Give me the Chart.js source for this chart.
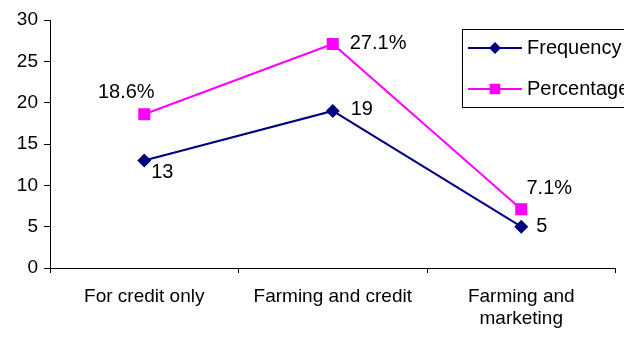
<!DOCTYPE html>
<html>
<head>
<meta charset="utf-8">
<script src="https://cdn.jsdelivr.net/npm/chart.js@4/dist/chart.umd.min.js"></script>
<style>
  html, body { margin: 0; padding: 0; background: #fff; }
  #wrap { width: 624px; height: 343px; }
</style>
</head>
<body>
<div id="wrap"><canvas id="purposeChart"></canvas></div>
<script>
const categories = ['For credit only', 'Farming and credit', ['Farming and', 'marketing']];
const frequency = [13, 19, 5];
const percentage = [18.6, 27.1, 7.1];
const freqLabels = ['13', '19', '5'];
const pctLabels = ['18.6%', '27.1%', '7.1%'];
const yTicks = [0, 5, 10, 15, 20, 25, 30];

// where each value label sits relative to its point
const freqLabelPos = [
  { dx: 7, dy: 12, align: 'left' },
  { dx: 18, dy: -1, align: 'left' },
  { dx: 15, dy: 0, align: 'left' }
];
const pctLabelPos = [
  { dx: -18, dy: -22, align: 'center' },
  { dx: 17, dy: 0, align: 'left' },
  { dx: 28, dy: -21, align: 'center' }
];

const FONT = '"Liberation Sans", Arial, sans-serif';

const valueLabels = {
  id: 'valueLabels',
  afterDatasetsDraw(chart) {
    const ctx = chart.ctx;
    ctx.save();
    ctx.fillStyle = '#000';
    ctx.font = '20px ' + FONT;
    ctx.textBaseline = 'middle';
    const sets = [[freqLabels, freqLabelPos], [pctLabels, pctLabelPos]];
    sets.forEach(function(s, di) {
      const meta = chart.getDatasetMeta(di);
      meta.data.forEach(function(pt, i) {
        const p = s[1][i];
        ctx.textAlign = p.align;
        ctx.fillText(s[0][i], pt.x + p.dx, pt.y + p.dy);
      });
    });
    ctx.restore();
  }
};

const boxLegend = {
  id: 'boxLegend',
  afterDraw(chart) {
    const ctx = chart.ctx;
    ctx.save();
    ctx.fillStyle = '#fff';
    ctx.fillRect(462, 29, 170, 78);
    ctx.strokeStyle = '#000';
    ctx.lineWidth = 1;
    ctx.strokeRect(462.5, 29.5, 170, 78);
    chart.data.datasets.forEach(function(ds, i) {
      const y = 48 + i * 41;
      ctx.strokeStyle = ds.borderColor;
      ctx.lineWidth = 2;
      ctx.beginPath();
      ctx.moveTo(468, y);
      ctx.lineTo(522, y);
      ctx.stroke();
      ctx.fillStyle = ds.borderColor;
      Chart.helpers.drawPoint(ctx, {
        pointStyle: ds.pointStyle,
        radius: ds.pointRadius - 1,
        borderWidth: 0
      }, 495, y);
      ctx.fillStyle = '#000';
      ctx.font = '20px ' + FONT;
      ctx.textAlign = 'left';
      ctx.textBaseline = 'middle';
      ctx.fillText(ds.label, 527, y);
    });
    ctx.restore();
  }
};

new Chart(document.getElementById('purposeChart'), {
  type: 'line',
  data: {
    labels: categories,
    datasets: [{
      label: 'Frequency',
      data: frequency,
      borderColor: '#000080',
      backgroundColor: '#000080',
      borderWidth: 2,
      pointStyle: 'rectRot',
      pointRadius: 7,
      pointBorderWidth: 0,
      tension: 0
    }, {
      label: 'Percentage',
      data: percentage,
      borderColor: '#ff00ff',
      backgroundColor: '#ff00ff',
      borderWidth: 2,
      pointStyle: 'rect',
      pointRadius: 8.5,
      pointBorderWidth: 0,
      tension: 0
    }]
  },
  options: {
    responsive: true,
    maintainAspectRatio: false,
    animation: false,
    layout: { padding: { top: 20, left: 0, right: 0, bottom: 0 } },
    plugins: {
      legend: { display: false },
      tooltip: { enabled: false }
    },
    scales: {
      x: {
        offset: true,
        afterFit: function(scale) { scale.height = 75; },
        border: { color: '#000', width: 1 },
        grid: { drawOnChartArea: false, drawTicks: true, tickLength: 5, color: '#000', offset: true },
        ticks: { color: '#000', font: { family: FONT, size: 19 }, padding: 12, maxRotation: 0 }
      },
      y: {
        min: 0,
        max: 30,
        afterFit: function(scale) { scale.width = 50; },
        afterBuildTicks: function(scale) { scale.ticks = yTicks.map(function(v) { return { value: v }; }); },
        border: { color: '#000', width: 1 },
        grid: { drawOnChartArea: false, drawTicks: true, tickLength: 6, color: '#000' },
        ticks: { color: '#000', font: { family: FONT, size: 19 }, padding: 6 }
      }
    }
  },
  plugins: [valueLabels, boxLegend]
});
</script>
</body>
</html>
